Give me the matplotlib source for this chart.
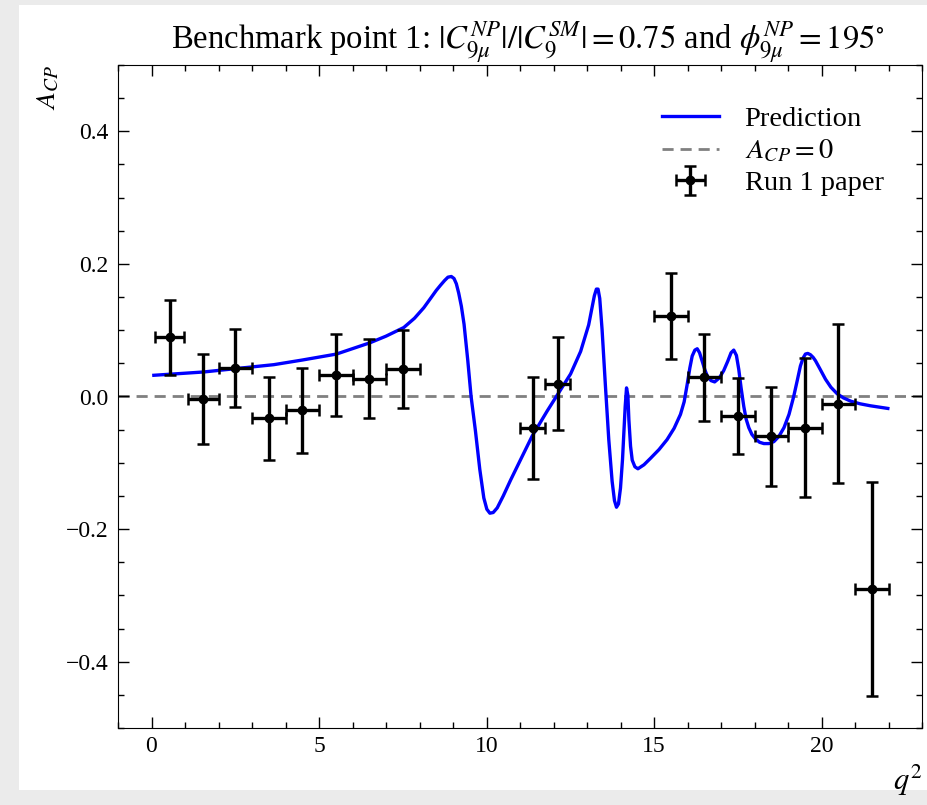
# Recreate the CP asymmetry plot for benchmark point 1

import numpy as np
import matplotlib
matplotlib.use('Agg')
import matplotlib.pyplot as plt
from matplotlib.patches import Rectangle

plt.rcParams['font.family'] = ['Liberation Serif', 'DejaVu Serif']
plt.rcParams['mathtext.fontset'] = 'stix'

# Run 1 paper measurements (bin edges, values, errors)
q2_lo = [0.1, 1.1, 2.0, 3.0, 4.0, 5.0, 6.0, 7.0, 11.0, 11.75, 15.0, 16.0, 17.0, 18.0, 19.0, 20.0, 21.0]
q2_hi = [0.98, 2.0, 3.0, 4.0, 5.0, 6.0, 7.0, 8.0, 11.75, 12.5, 16.0, 17.0, 18.0, 19.0, 20.0, 21.0, 22.0]
acp_data = [0.089, -0.004, 0.043, -0.033, -0.021, 0.032, 0.027, 0.042, -0.047, 0.019,
            0.121, 0.029, -0.029, -0.060, -0.047, -0.011, -0.290]
acp_err = [0.056, 0.068, 0.059, 0.063, 0.064, 0.062, 0.060, 0.059, 0.077, 0.070,
           0.065, 0.066, 0.057, 0.075, 0.105, 0.120, 0.161]

# Prediction curve
pred_q2 = [0.07, 1.56, 2.5, 3.65, 4.5, 5.52, 6.52, 7.0, 7.53, 7.85, 8.13, 8.33, 8.50, 8.63,
           8.75, 8.85, 8.95, 9.03, 9.10, 9.17, 9.25, 9.33, 9.44, 9.54, 9.67, 9.80, 9.92, 10.01,
           10.10, 10.20, 10.32, 10.50, 10.72, 11.01, 11.36, 11.81, 12.16, 12.51, 12.81, 13.05,
           13.15, 13.22, 13.28, 13.33, 13.38, 13.45, 13.55, 13.65, 13.75, 13.82, 13.88, 13.94,
           14.0, 14.06, 14.10, 14.14, 14.18, 14.22, 14.25, 14.30, 14.35, 14.43, 14.52, 14.70,
           14.90, 15.15, 15.39, 15.60, 15.79, 15.90, 15.99, 16.07, 16.14, 16.22, 16.29, 16.36,
           16.44, 16.52, 16.59, 16.70, 16.81, 16.95, 17.08, 17.20, 17.30, 17.38, 17.46, 17.53,
           17.60, 17.68, 17.75, 17.83, 17.92, 18.03, 18.15, 18.28, 18.43, 18.58, 18.73, 18.88,
           19.03, 19.17, 19.28, 19.37, 19.45, 19.52, 19.59, 19.67, 19.75, 19.82, 19.95, 20.12,
           20.28, 20.47, 20.65, 20.87, 21.15, 21.46, 21.98]
pred_acp = [0.032, 0.037, 0.042, 0.048, 0.055, 0.064, 0.081, 0.091, 0.104, 0.118, 0.134, 0.148,
            0.160, 0.168, 0.175, 0.180, 0.181, 0.178, 0.170, 0.156, 0.136, 0.109, 0.055, 0.000,
            -0.052, -0.110, -0.153, -0.170, -0.176, -0.175, -0.168, -0.150, -0.126, -0.096,
            -0.060, -0.022, 0.006, 0.034, 0.068, 0.108, 0.134, 0.152, 0.162, 0.162, 0.148,
            0.101, 0.016, -0.065, -0.128, -0.157, -0.167, -0.162, -0.138, -0.095, -0.055,
            -0.015, 0.013, 0.002, -0.035, -0.075, -0.096, -0.106, -0.109, -0.103, -0.093,
            -0.080, -0.065, -0.048, -0.027, -0.008, 0.018, 0.043, 0.061, 0.070, 0.072, 0.066,
            0.053, 0.040, 0.031, 0.024, 0.022, 0.028, 0.039, 0.053, 0.066, 0.070, 0.062, 0.041,
            0.013, -0.015, -0.034, -0.047, -0.057, -0.064, -0.069, -0.071, -0.071, -0.068,
            -0.060, -0.047, -0.027, 0.000, 0.025, 0.046, 0.058, 0.064, 0.065, 0.063, 0.059,
            0.054, 0.042, 0.026, 0.014, 0.004, -0.002, -0.007, -0.011, -0.014, -0.018]

q2_lo = np.array(q2_lo)
q2_hi = np.array(q2_hi)
q2_mid = (q2_lo + q2_hi) / 2
q2_half = (q2_hi - q2_lo) / 2

################################################################################
#                                   Plot                                       #
################################################################################

fig = plt.figure(figsize=(9.27, 8.05), dpi=100, facecolor='#ebebeb')
# white page area inside the grey frame
fig.patches.append(Rectangle((19 / 927, 15 / 805), 1, 1 - 20 / 805,
                             transform=fig.transFigure, facecolor='white',
                             edgecolor='none', zorder=-10))

ax = fig.add_axes([118 / 927, 1 - 728 / 805, 804 / 927, 663 / 805])

ax.plot(pred_q2, pred_acp, color='blue', lw=2.4, label='Prediction', zorder=3)
ax.axhline(0, color='gray', ls='--', lw=2, dashes=(4, 2.5), label=r'$A_{CP} = 0$', zorder=1)
ax.errorbar(q2_mid, acp_data, xerr=q2_half, yerr=acp_err, fmt='o', color='black',
            ms=6, lw=2.4, capsize=4, capthick=1.8, label='Run 1 paper', zorder=4)

ax.set_xlim(-1, 23)
ax.set_ylim(-0.5, 0.5)
ax.set_xticks([0, 5, 10, 15, 20])
ax.set_xticks(np.arange(-1, 24, 1), minor=True)
ax.set_yticks([-0.4, -0.2, 0.0, 0.2, 0.4])
ax.set_yticks(np.arange(-0.5, 0.51, 0.05), minor=True)
ax.tick_params(which='both', direction='in', top=True, right=True, labelsize=17)
ax.tick_params(which='major', length=8, width=1)
ax.tick_params(which='minor', length=4, width=1)
ax.tick_params(axis='x', pad=6)
ax.tick_params(axis='y', pad=7)

ax.set_xlabel(r'$q^2$', fontsize=22, loc='right', labelpad=4)
ax.set_ylabel(r'$A_{CP}$', fontsize=20, loc='top', labelpad=3)

ax.set_title(r'Benchmark point 1: $|C_{9\mu}^{NP}|/|C_9^{SM}| = 0.75$ and '
             r'$\phi_{9\mu}^{NP} = 195^{\circ}$', fontsize=23.5, pad=2, x=0.51)

ax.legend(loc='upper right', bbox_to_anchor=(1 - 10 / 804, 1 - 13 / 663), frameon=False,
          fontsize=20.5, handlelength=2.0, borderaxespad=0.6, labelspacing=0.2,
          handletextpad=0.9)

plt.savefig('out.png', dpi=100, facecolor=fig.get_facecolor())
